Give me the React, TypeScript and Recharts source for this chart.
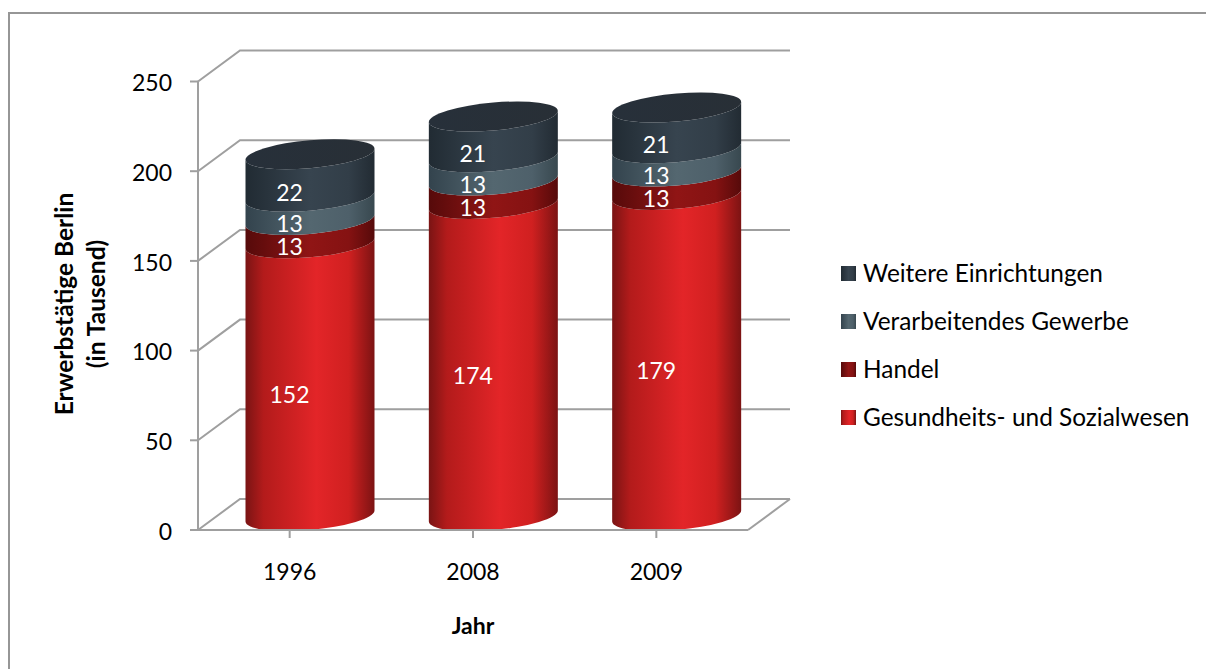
import React from 'react';
import { BarChart, Bar, XAxis, YAxis, CartesianGrid, LabelList, Legend } from 'recharts';

const years = ['1996', '2008', '2009'];
const gesundheit = [152, 174, 179];
const handel = [13, 13, 13];
const gewerbe = [13, 13, 13];
const weitere = [22, 21, 21];
const yTicks = [0, 50, 100, 150, 200, 250];

const legendItems = [
  { name: 'Weitere Einrichtungen', fill: 'url(#gradWeitere)' },
  { name: 'Verarbeitendes Gewerbe', fill: 'url(#gradGewerbe)' },
  { name: 'Handel', fill: 'url(#gradHandel)' },
  { name: 'Gesundheits- und Sozialwesen', fill: 'url(#gradGesund)' },
];

const chartData = years.map((year, i) => ({
  year,
  gesundheit: gesundheit[i],
  handel: handel[i],
  gewerbe: gewerbe[i],
  weitere: weitere[i],
}));

const FONT = 'Lato, sans-serif';
const GRID = '#9f9f9f';
// fake 3d: how far the back wall sits from the front axes
const DEPTH_X = 42;
const DEPTH_Y = -31;
// the cylinders stand halfway into the floor
const BAR_DX = 20.5;
const BAR_DY = -14;
const RY = 14;
const SKEW = -5.5;

const Cylinder = (props: any) => {
  const { x, y, width, height, fill, isTop } = props;
  const rx = width / 2;
  const cx = x + rx + BAR_DX;
  const lift = isTop ? 3 : 0;
  const y0 = y + BAR_DY - lift;
  const y1 = y + height + BAR_DY;
  const side = `M ${-rx} ${y0} A ${rx} ${RY} 0 0 0 ${rx} ${y0} L ${rx} ${y1} A ${rx} ${RY} 0 0 1 ${-rx} ${y1} Z`;
  return (
    <g transform={`matrix(1 ${SKEW / rx} 0 1 ${cx} 0)`}>
      <path d={side} fill={fill} />
      {isTop && <ellipse cx={0} cy={y0} rx={rx} ry={RY} fill="url(#gradCap)" />}
    </g>
  );
};

const renderWall = (props: any) => {
  const { x1, x2, y1, index } = props;
  const backY = y1 + DEPTH_Y;
  return (
    <g key={`wall-${index}`} fill="none" stroke={GRID} strokeWidth={2}>
      <polyline points={`${x1},${y1} ${x1 + DEPTH_X},${backY} ${x2 + DEPTH_X},${backY}`} />
      {y1 > 500 && <line x1={x2} y1={y1} x2={x2 + DEPTH_X} y2={backY} />}
    </g>
  );
};

const YTitle = () => (
  <text
    transform="translate(81 304) rotate(-90)"
    textAnchor="middle"
    fontFamily={FONT}
    fontWeight={700}
    fontSize={24.5}
    fill="#000"
  >
    <tspan x={0} y={-8}>Erwerbstätige Berlin</tspan>
    <tspan x={0} y={24}>(in Tausend)</tspan>
  </text>
);

const XTitle = () => (
  <text x={473} y={634} textAnchor="middle" fontFamily={FONT} fontWeight={700} fontSize={23} fill="#000">
    Jahr
  </text>
);

const LegendBox = () => (
  <svg width={360} height={200} style={{ display: 'block' }}>
    {legendItems.map((item, i) => (
      <g key={item.name} transform={`translate(0 ${12 + i * 48})`}>
        <rect x={0} y={0} width={15} height={15} fill={item.fill} />
        <text x={22} y={16} fontFamily={FONT} fontSize={24.4} fill="#000">
          {item.name}
        </text>
      </g>
    ))}
  </svg>
);

const labelStyle = { fill: '#fff', fontFamily: FONT, fontSize: 23 };
const tickStyle = { fill: '#000', fontFamily: FONT, fontSize: 23 };

export default function App() {
  return (
    <div style={{ position: 'absolute', left: 0, top: 0, width: 1206, height: 669, background: '#fff', overflow: 'hidden' }}>
      <div style={{ position: 'absolute', left: 8, top: 12, width: 1300, height: 800, border: '2px solid #969696', boxSizing: 'border-box' }} />
      <BarChart
        width={1206}
        height={669}
        data={chartData}
        margin={{ top: 81.5, right: 458, bottom: 0, left: 0 }}
        barSize={129}
      >
        <defs>
          <linearGradient id="gradGesund" x1="0" y1="0" x2="1" y2="0">
            <stop offset="0" stopColor="#7a1414" />
            <stop offset="0.14" stopColor="#b31b1b" />
            <stop offset="0.55" stopColor="#e32528" />
            <stop offset="0.8" stopColor="#d02020" />
            <stop offset="1" stopColor="#7c1313" />
          </linearGradient>
          <linearGradient id="gradHandel" x1="0" y1="0" x2="1" y2="0">
            <stop offset="0" stopColor="#560a0a" />
            <stop offset="0.5" stopColor="#901515" />
            <stop offset="0.8" stopColor="#851212" />
            <stop offset="1" stopColor="#560a0a" />
          </linearGradient>
          <linearGradient id="gradGewerbe" x1="0" y1="0" x2="1" y2="0">
            <stop offset="0" stopColor="#33434d" />
            <stop offset="0.5" stopColor="#546770" />
            <stop offset="0.8" stopColor="#4e606a" />
            <stop offset="1" stopColor="#38484f" />
          </linearGradient>
          <linearGradient id="gradWeitere" x1="0" y1="0" x2="1" y2="0">
            <stop offset="0" stopColor="#212b33" />
            <stop offset="0.5" stopColor="#37444f" />
            <stop offset="0.8" stopColor="#323e48" />
            <stop offset="1" stopColor="#222b33" />
          </linearGradient>
          <linearGradient id="gradCap" x1="0" y1="0" x2="1" y2="0">
            <stop offset="0" stopColor="#27303a" />
            <stop offset="1" stopColor="#282f36" />
          </linearGradient>
        </defs>
        <CartesianGrid vertical={false} horizontal={renderWall} />
        <XAxis
          dataKey="year"
          height={139}
          tickSize={8}
          tickMargin={26}
          axisLine={{ stroke: GRID, strokeWidth: 2 }}
          tickLine={{ stroke: GRID, strokeWidth: 2 }}
          tick={tickStyle}
          label={<XTitle />}
        />
        <YAxis
          width={198}
          domain={[0, 250]}
          ticks={yTicks}
          tickSize={8}
          tickMargin={18}
          axisLine={{ stroke: GRID, strokeWidth: 2 }}
          tickLine={{ stroke: GRID, strokeWidth: 2 }}
          tick={{ ...tickStyle, dy: 1.5 }}
          label={<YTitle />}
        />
        <Legend
          layout="horizontal"
          verticalAlign="middle"
          wrapperStyle={{ left: 841, top: 254, width: 360 }}
          content={<LegendBox />}
        />
        <Bar dataKey="gesundheit" stackId="a" fill="url(#gradGesund)" shape={<Cylinder />} isAnimationActive={false}>
          <LabelList dataKey="gesundheit" position="center" style={labelStyle} dy={1.5} />
        </Bar>
        <Bar dataKey="handel" stackId="a" fill="url(#gradHandel)" shape={<Cylinder />} isAnimationActive={false}>
          <LabelList dataKey="handel" position="center" style={labelStyle} dy={1.5} />
        </Bar>
        <Bar dataKey="gewerbe" stackId="a" fill="url(#gradGewerbe)" shape={<Cylinder />} isAnimationActive={false}>
          <LabelList dataKey="gewerbe" position="center" style={labelStyle} dy={1.5} />
        </Bar>
        <Bar dataKey="weitere" stackId="a" fill="url(#gradWeitere)" shape={<Cylinder isTop />} isAnimationActive={false}>
          <LabelList dataKey="weitere" position="center" style={labelStyle} dy={1.5} />
        </Bar>
      </BarChart>
    </div>
  );
}
